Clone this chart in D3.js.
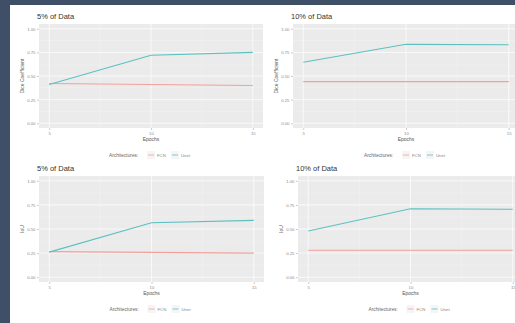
<!DOCTYPE html>
<html>
<head>
<meta charset="utf-8">
<script src="https://cdn.jsdelivr.net/npm/d3@7"></script>
<style>
  html, body { margin: 0; padding: 0; background: #3e4f67; }
  svg { display: block; }
  text { font-family: "Liberation Sans", Arial, sans-serif; }
</style>
</head>
<body>
<script>
// ---- Data ----
const epochs = [5, 10, 15];
const architectures = ["FCN", "Unet"];
const panelTitles = ["5% of Data", "10% of Data", "5% of Data", "10% of Data"];
const yAxisTitles = ["Dice Coefficient", "Dice Coefficient", "IoU", "IoU"];
const yTicks = [0, 0.25, 0.5, 0.75, 1.0];
const xTicks = [5, 10, 15];

const dice5_FCN  = [0.42, 0.41, 0.40];
const dice5_Unet = [0.41, 0.72, 0.75];
const dice10_FCN  = [0.44, 0.44, 0.44];
const dice10_Unet = [0.645, 0.835, 0.83];
const iou5_FCN  = [0.265, 0.257, 0.25];
const iou5_Unet = [0.26, 0.565, 0.59];
const iou10_FCN  = [0.28, 0.28, 0.28];
const iou10_Unet = [0.48, 0.71, 0.705];

const seriesByPanel = [
  [dice5_FCN, dice5_Unet],
  [dice10_FCN, dice10_Unet],
  [iou5_FCN, iou5_Unet],
  [iou10_FCN, iou10_Unet]
];

// ---- Layout ----
const W = 515, H = 323;
const colors = { FCN: "#f2a09b", Unet: "#5cc0c1" };
const panels = [
  { left: 39,  right: 263, top: 24,  bottom: 128 },
  { left: 293, right: 519, top: 24,  bottom: 128 },
  { left: 39,  right: 264, top: 176, bottom: 282 },
  { left: 298, right: 523, top: 176, bottom: 282 }
];

const svg = d3.select("body").append("svg").attr("width", W).attr("height", H);
svg.append("rect").attr("x", 0).attr("y", 0).attr("width", W).attr("height", H).attr("fill", "#3e4f67");
svg.append("rect").attr("x", 10).attr("y", 5).attr("width", W - 10).attr("height", H - 5).attr("fill", "#ffffff");

const clip = svg.append("defs").append("clipPath").attr("id", "whiteclip");
clip.append("rect").attr("x", 10).attr("y", 5).attr("width", W - 10).attr("height", H - 5);

const root = svg.append("g").attr("clip-path", "url(#whiteclip)");

panels.forEach((p, i) => {
  const x = d3.scaleLinear().domain([4.5, 15.5]).range([p.left, p.right]);
  const y = d3.scaleLinear().domain([-0.05, 1.05]).range([p.bottom, p.top]);
  const g = root.append("g");

  // panel background
  g.append("rect").attr("x", p.left).attr("y", p.top)
    .attr("width", p.right - p.left).attr("height", p.bottom - p.top)
    .attr("fill", "#ebebeb");

  // minor grid
  const yMinor = [0.125, 0.375, 0.625, 0.875];
  const xMinor = [7.5, 12.5];
  g.selectAll(".ymin").data(yMinor).enter().append("line")
    .attr("x1", p.left).attr("x2", p.right)
    .attr("y1", d => y(d)).attr("y2", d => y(d))
    .attr("stroke", "#f3f3f3").attr("stroke-width", 0.5);
  g.selectAll(".xmin").data(xMinor).enter().append("line")
    .attr("y1", p.top).attr("y2", p.bottom)
    .attr("x1", d => x(d)).attr("x2", d => x(d))
    .attr("stroke", "#f3f3f3").attr("stroke-width", 0.5);
  // major grid
  g.selectAll(".ymaj").data(yTicks).enter().append("line")
    .attr("x1", p.left).attr("x2", p.right)
    .attr("y1", d => y(d)).attr("y2", d => y(d))
    .attr("stroke", "#fafafa").attr("stroke-width", 0.9);
  g.selectAll(".xmaj").data(xTicks).enter().append("line")
    .attr("y1", p.top).attr("y2", p.bottom)
    .attr("x1", d => x(d)).attr("x2", d => x(d))
    .attr("stroke", "#fafafa").attr("stroke-width", 0.9);

  // axes
  const yAxis = d3.axisLeft(y).tickValues(yTicks).tickFormat(d3.format(".2f")).tickSize(2).tickPadding(1.5);
  const ya = g.append("g").attr("transform", `translate(${p.left},0)`).call(yAxis);
  const xAxis = d3.axisBottom(x).tickValues(xTicks).tickFormat(d3.format("d")).tickSize(2).tickPadding(1.5);
  const xa = g.append("g").attr("transform", `translate(0,${p.bottom})`).call(xAxis);
  [ya, xa].forEach(a => {
    a.select(".domain").remove();
    a.selectAll(".tick line").attr("stroke", "#aaa").attr("stroke-width", 0.6);
    a.selectAll(".tick text").attr("fill", "#8a8a8a").attr("font-size", 4.3);
  });

  // lines
  const line = d3.line().x((d, j) => x(epochs[j])).y(d => y(d));
  architectures.forEach((a, k) => {
    g.append("path").datum(seriesByPanel[i][k])
      .attr("d", line).attr("fill", "none")
      .attr("stroke", colors[a]).attr("stroke-width", 1.1);
  });

  // title
  g.append("text").attr("x", p.left - 2).attr("y", p.top - 5)
    .attr("font-size", 7.5).attr("fill", "#333").text(panelTitles[i]);

  // axis titles
  g.append("text").attr("x", x(10)).attr("y", p.bottom + 13)
    .attr("text-anchor", "middle").attr("font-size", 5).attr("fill", "#555").text("Epochs");
  g.append("text")
    .attr("transform", `translate(${p.left - 15},${(p.top + p.bottom) / 2}) rotate(-90)`)
    .attr("text-anchor", "middle").attr("font-size", 5).attr("fill", "#555").text(yAxisTitles[i]);

  // legend
  const ly = p.bottom + 27;
  const lg = g.append("g").attr("transform", `translate(${x(10) - 42},${ly})`);
  lg.append("text").attr("x", 0).attr("y", 1.7).attr("font-size", 4.8).attr("fill", "#666").text("Architectures:");
  let lx = 38;
  architectures.forEach(a => {
    lg.append("rect").attr("x", lx).attr("y", -4).attr("width", 8).attr("height", 8).attr("fill", "#f5f5f5");
    lg.append("line").attr("x1", lx + 1).attr("x2", lx + 7).attr("y1", 0).attr("y2", 0)
      .attr("stroke", colors[a]).attr("stroke-width", 0.8);
    lg.append("text").attr("x", lx + 10).attr("y", 1.7).attr("font-size", 4.3).attr("fill", "#888").text(a);
    lx += a === "FCN" ? 24 : 20;
  });
});
</script>
</body>
</html>
